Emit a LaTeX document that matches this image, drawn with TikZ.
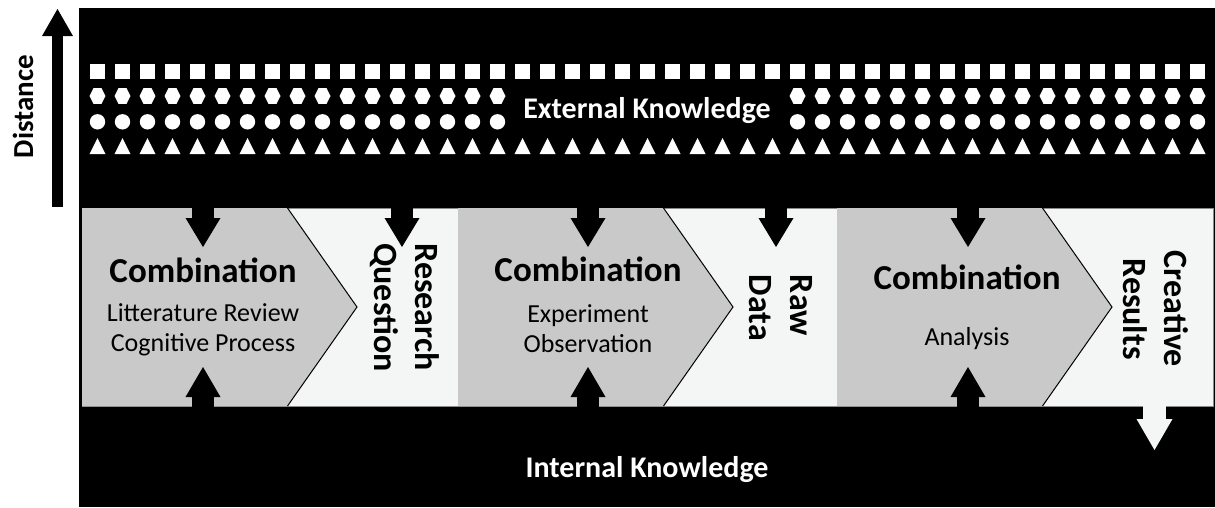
\documentclass[tikz,border=0pt]{standalone}
\usepackage{fontspec}
\setmainfont{Carlito}
\usetikzlibrary{arrows.meta}
\definecolor{combgray}{HTML}{C9C9C9}
\definecolor{outlight}{HTML}{F4F6F6}
\definecolor{edgegray}{HTML}{8A8A8A}

\begin{document}
\begin{tikzpicture}[x=1pt,y=-1pt,line join=miter,
    combtitle/.style={font=\fontsize{35}{42}\selectfont\bfseries,anchor=base},
    combsub/.style={font=\fontsize{26}{30}\selectfont,align=center},
    outlabel/.style={font=\fontsize{34}{41}\selectfont\bfseries,rotate=-90},
    knowtext/.style={font=\fontsize{30}{34}\selectfont\bfseries,text=white,anchor=base},
    downarrow/.style={line width=22pt,-{Triangle[length=29pt,width=35pt,line width=0pt]}},
    uparrow/.style={line width=22pt,-{Triangle[length=30pt,width=35pt,line width=0pt]}},
    outarrow/.style={draw=outlight,line width=23pt,-{Triangle[length=31pt,width=36pt,line width=0pt]}},
    distarrow/.style={line width=11pt,-{Triangle[length=27pt,width=31pt,line width=0pt]}}]
\useasboundingbox (0,0) rectangle (1215,507);
%background
\fill[black] (79,8) rectangle (1215,507);
%%%%shapes
\foreach \i [evaluate=\i as \x using 97.5+25*\i] in {0,...,44} {
  \fill[white] (\x-7.5,63.5) rectangle (\x+7.5,78.5);%square
  \fill[white] (\x-8,154) -- (\x+8,154) -- (\x,138) -- cycle;%triangle
}
\foreach \i [evaluate=\i as \x using 97.5+25*\i] in {0,...,16,28,29,...,44} {
  \fill[white] (\x-8,96) -- (\x-4,88.2) -- (\x+4,88.2) -- (\x+8,96) -- (\x+4,103.8) -- (\x-4,103.8) -- cycle;%hexagon
  \fill[white] (\x,121.8) circle (7.7);%circle
}
%%%%knowledge
\node[knowtext] (ext) at (647,118) {External Knowledge};
\node[knowtext] (int) at (647,477) {Internal Knowledge};
%%%%distance
\node[font=\fontsize{29}{34}\selectfont\bfseries,rotate=90,anchor=base] (dist) at (33,106.5) {Distance};
\coordinate (d0) at (57.5,207);
\coordinate (d1) at (57.5,9);
\draw[distarrow] (d0) -- (d1);
%%%%sections
\foreach \x/\w in {82/376,458/379,837/376} {
  \filldraw[fill=outlight,draw=edgegray,line width=0.8pt] (\x,208) rectangle (\x+\w,406);
  \fill[combgray] (\x,208) -- (\x+205.5,208) -- (\x+275,307) -- (\x+205.5,406) -- (\x,406) -- cycle;
  \draw[line width=1pt] (\x+205.5,208) -- (\x+275,307) -- (\x+205.5,406);
}
%%%%texts
\node[combtitle] (comb1) at (203,282) {Combination};
\node[combsub] (sub1) at (203,330) {Litterature Review\\Cognitive Process};
\node[combtitle] (comb2) at (588,281) {Combination};
\node[combsub] (sub2) at (588,329) {Experiment\\Observation};
\node[combtitle] (comb3) at (967,289) {Combination};
\node[combsub,anchor=base] (sub3) at (967,345) {Analysis};
\node[outlabel,align=left] (resq) at (405,307.5) {Research\\Question};
\node[outlabel,align=left] (rawd) at (781,308) {Raw\\Data};
\node[outlabel,align=center] (cres) at (1156,309) {Creative\\Results};
%%%%arrows from external
\foreach \x [count=\n] in {203,402,588,776,968} {
  \coordinate (e\n) at (\x,200);
  \coordinate (f\n) at (\x,247);
  \draw[downarrow] (e\n) -- (f\n);
}
%%%%arrows from internal
\foreach \x [count=\n] in {203,588,968} {
  \coordinate (i\n) at (\x,416);
  \coordinate (j\n) at (\x,367);
  \draw[uparrow] (i\n) -- (j\n);
}
%%%%result out
\coordinate (r0) at (1154.5,400);
\coordinate (r1) at (1154.5,450);
\draw[outarrow] (r0) -- (r1);
\end{tikzpicture}
\end{document}
